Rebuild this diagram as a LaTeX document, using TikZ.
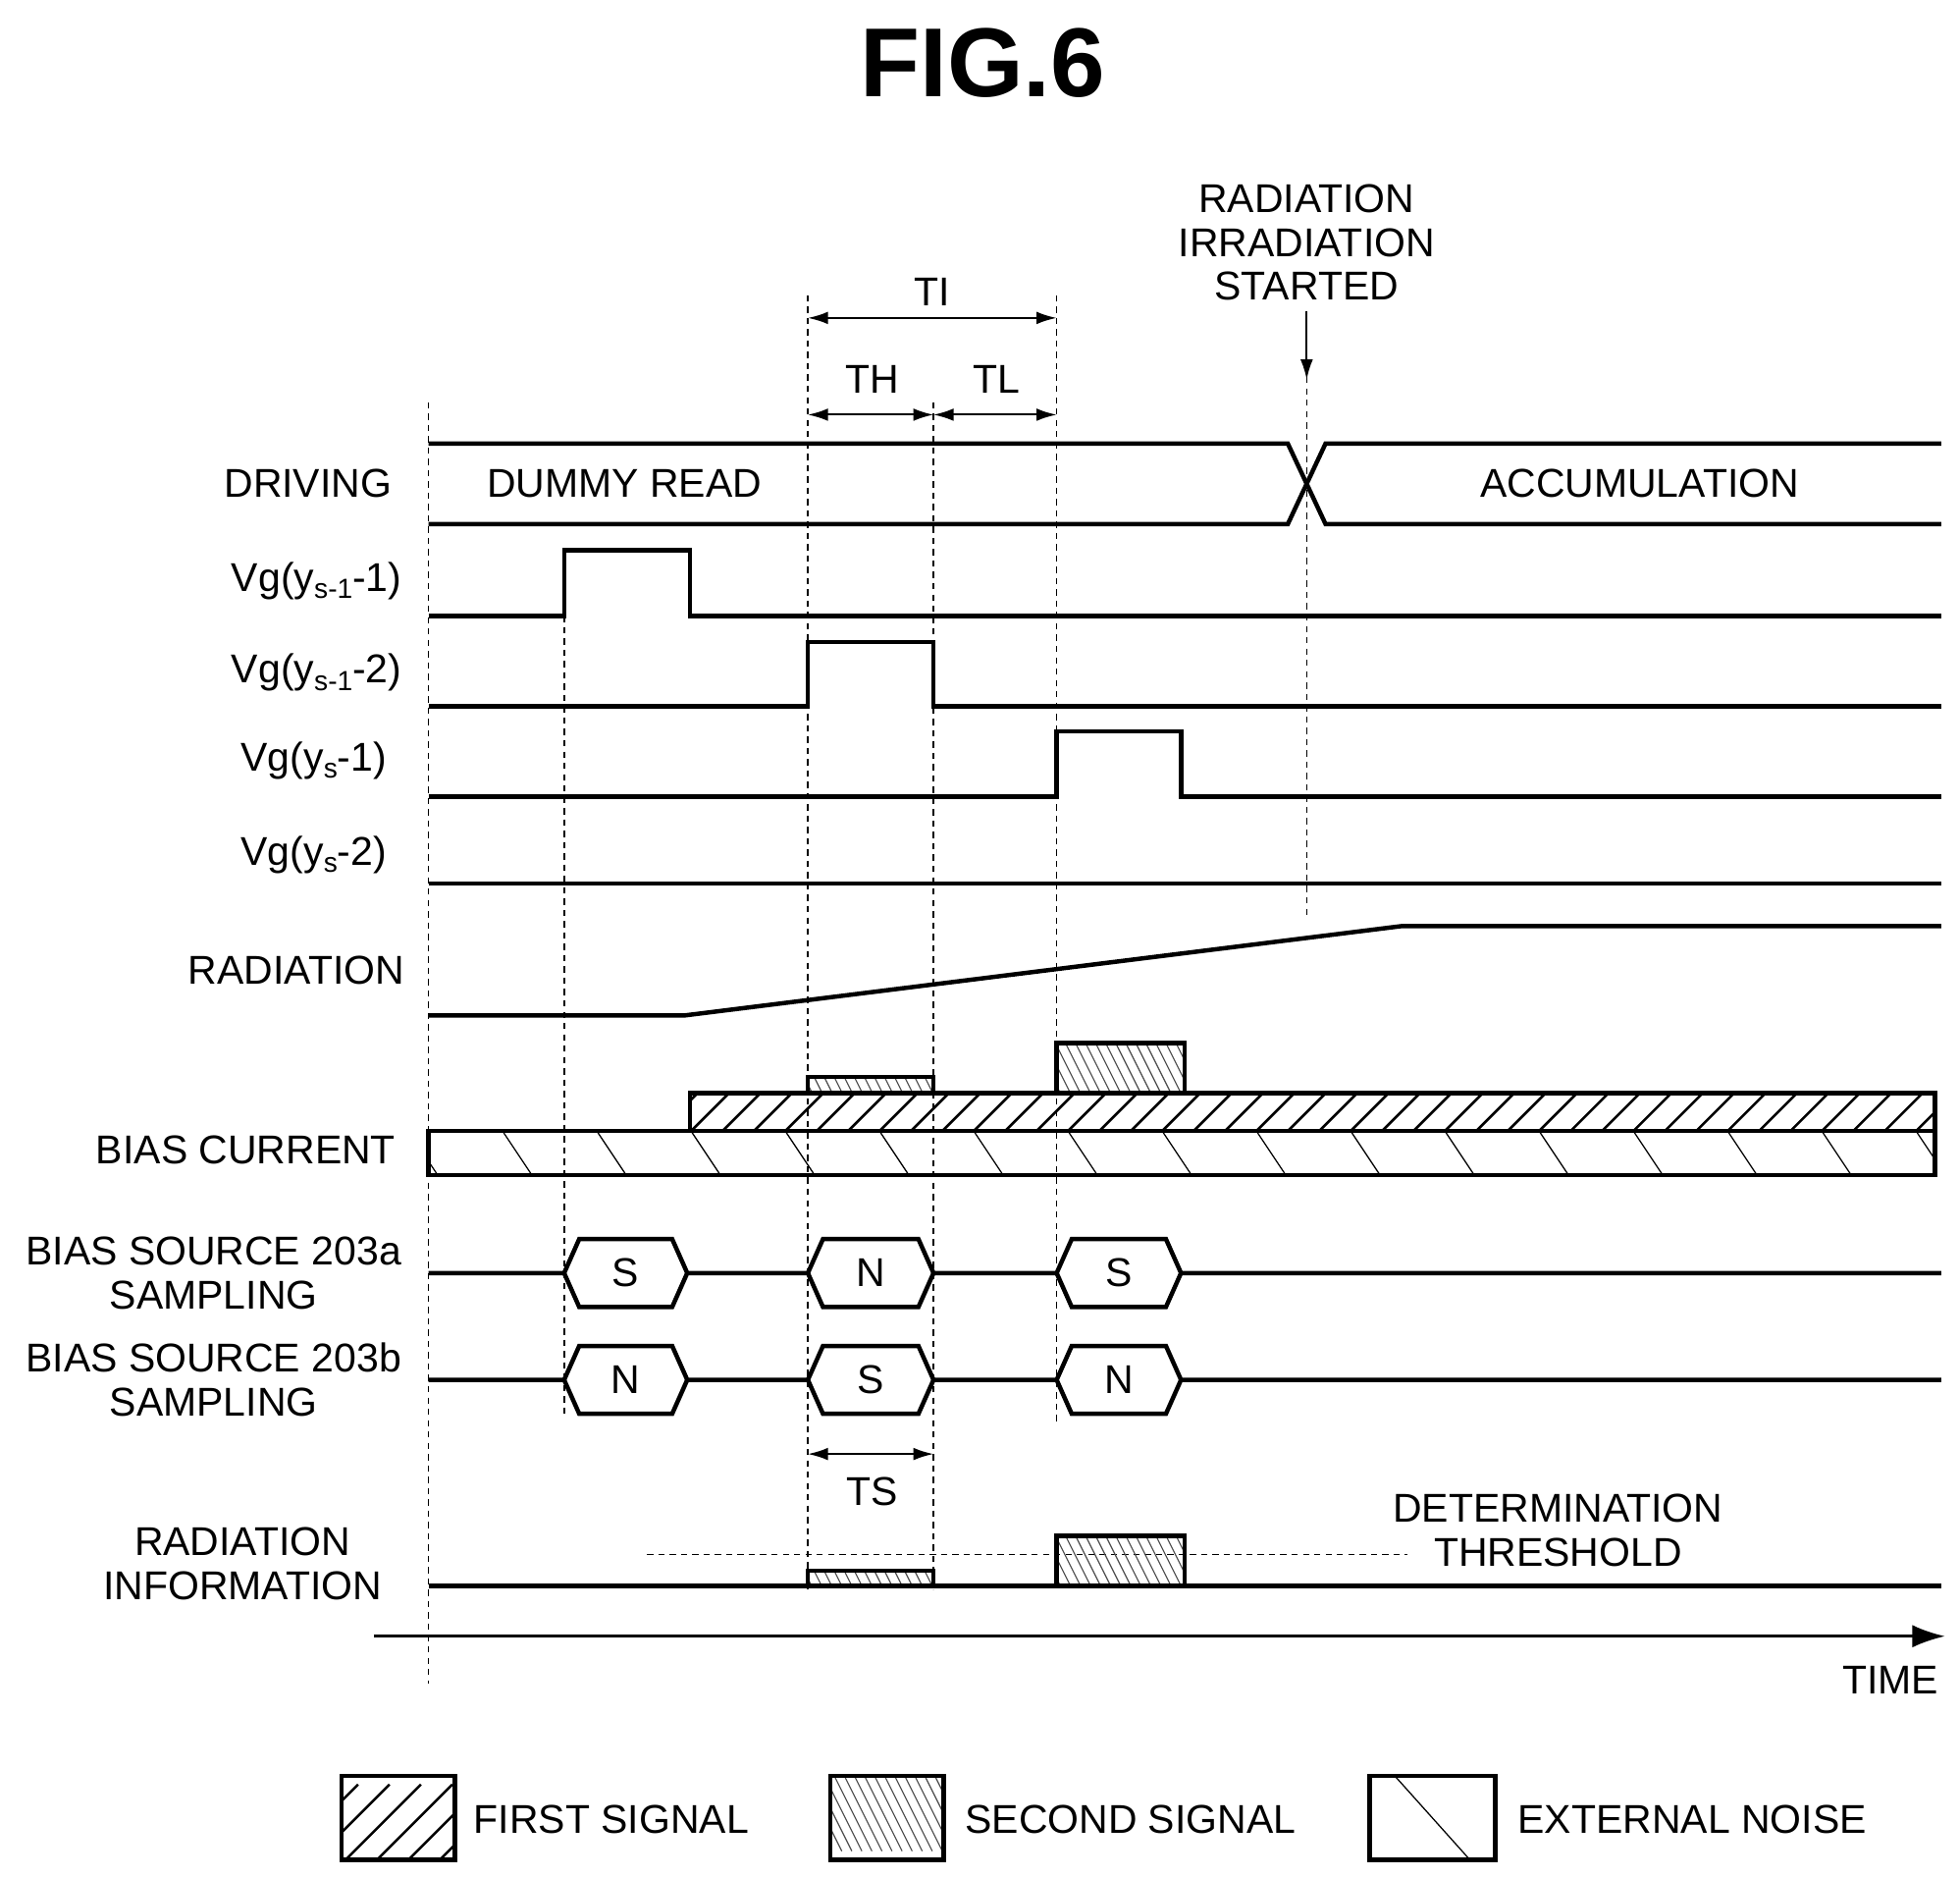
\documentclass[tikz,border=0pt]{standalone}
\usepackage{fontspec}
\setmainfont{Liberation Sans}
\usetikzlibrary{arrows.meta}
\begin{document}
\begin{tikzpicture}[x=1pt,y=-1pt,
  sig/.style={line width=3.5pt},
  dsh/.style={line width=1.2pt,dash pattern=on 5pt off 4pt},
  lbl/.style={font=\fontsize{32}{35}\selectfont,inner sep=0pt},
  lblr/.style={lbl,anchor=east},
  lbl2/.style={lbl,align=center,font=\fontsize{32}{35}\selectfont},
  dim/.style={line width=1.5pt,{Latex[length=16pt,width=10pt]}-{Latex[length=16pt,width=10pt]}},
  hex/.style={sig}]
\useasboundingbox (0,0) rectangle (1560,1493);
\newcommand\hatchNE[4]{\begin{scope}\clip (#1,#2) rectangle (#3,#4);
  \foreach \k in {-200,-175,...,1600}{\draw[line width=2pt] (\k,#4) -- ++(60,-60);}\end{scope}}
\newcommand\hatchDot[4]{\begin{scope}\clip (#1,#2) rectangle (#3,#4);
  \foreach \k in {-200,-192,...,1600}{\draw[line width=0.9pt,black!70] (\k,#2) -- ++(30,60);}\end{scope}}
\newcommand\hatchNW[4]{\begin{scope}\clip (#1,#2) rectangle (#3,#4);
  \foreach \k in {-200,-125,...,1600}{\draw[line width=1pt] (\k,#2) -- ++(40,60);}\end{scope}}
% title
\node[font=\bfseries\fontsize{78}{78}\selectfont,inner sep=0pt] (title) at (782,50) {FIG.6};
% dashed verticals
\draw[dsh] (341,320) -- (341,1340);
\draw[dsh] (449,490) -- (449,1128);
\draw[dsh] (643,235) -- (643,1265);
\draw[dsh] (743,320) -- (743,1265);
\draw[dsh] (841,235) -- (841,1132);
\draw[dsh] (1040,300) -- (1040,728);
% dimension arrows
\coordinate (ti1) at (643,253); \coordinate (ti2) at (841,253);
\draw[dim] (ti1) -- (ti2);
\node[lbl] (TI) at (742,232) {TI};
\coordinate (th1) at (643,330); \coordinate (th2) at (743,330); \coordinate (tl2) at (841,330);
\draw[dim] (th1) -- (th2); \draw[dim] (th2) -- (tl2);
\node[lbl] (TH) at (694,302) {TH};
\node[lbl] (TL) at (793,302) {TL};
\node[lbl2] (rstart) at (1040,193) {RADIATION\\IRRADIATION\\STARTED};
\coordinate (ra1) at (1040,248); \coordinate (ra2) at (1040,302);
\draw[line width=1.5pt,-{Latex[length=16pt,width=10pt]}] (ra1) -- (ra2);
% DRIVING
\draw[sig] (341,353) -- (1025,353) -- (1055,417) -- (1545,417);
\draw[sig] (341,417) -- (1025,417) -- (1055,353) -- (1545,353);
\node[lblr] (ldrv) at (312,385) {DRIVING};
\node[lbl] (dummy) at (497,385) {DUMMY READ};
\node[lbl] (accum) at (1305,385) {ACCUMULATION};
% Vg rows
\newcommand\sub[1]{\raisebox{-0.35ex}{\fontsize{22}{22}\selectfont #1}}
\draw[sig] (341,490) -- (449,490) -- (449,438) -- (549,438) -- (549,490) -- (1545,490);
\node[lblr] (l1) at (320,462) {Vg(y\sub{s-1}-1)};
\draw[sig] (341,562) -- (643,562) -- (643,511) -- (743,511) -- (743,562) -- (1545,562);
\node[lblr] (l2) at (320,535) {Vg(y\sub{s-1}-2)};
\draw[sig] (341,634) -- (841,634) -- (841,582) -- (940,582) -- (940,634) -- (1545,634);
\node[lblr] (l3) at (308,605) {Vg(y\sub{s}-1)};
\draw[sig] (341,703) -- (1545,703);
\node[lblr] (l4) at (308,680) {Vg(y\sub{s}-2)};
% radiation
\draw[sig] (341,808) -- (545,808) -- (1115,737) -- (1545,737);
\node[lblr] (lrad) at (322,772) {RADIATION};
% bias current
\hatchNW{341}{900}{1540}{935}
\draw[sig] (341,900) rectangle (1540,935);
\hatchNE{549}{870}{1540}{900}
\draw[sig] (549,870) rectangle (1540,900);
\hatchDot{643}{857}{743}{870}
\draw[sig] (643,857) rectangle (743,870);
\hatchDot{841}{830}{943}{870}
\draw[sig] (841,830) rectangle (943,870);
\node[lblr] (lbias) at (315,915) {BIAS CURRENT};
% sampling rows
\newcommand\hexrow[4]{% y, t1,t2,t3
  \draw[sig] (341,#1) -- (449,#1) -- (461,#1-27) -- (535,#1-27) -- (547,#1) -- (643,#1)
    -- (655,#1-27) -- (731,#1-27) -- (743,#1) -- (841,#1) -- (853,#1-27) -- (928,#1-27) -- (940,#1) -- (1545,#1);
  \draw[sig] (449,#1) -- (461,#1+27) -- (535,#1+27) -- (547,#1);
  \draw[sig] (643,#1) -- (655,#1+27) -- (731,#1+27) -- (743,#1);
  \draw[sig] (841,#1) -- (853,#1+27) -- (928,#1+27) -- (940,#1);
  \node[lbl] at (498,#1) {#2}; \node[lbl] at (693,#1) {#3}; \node[lbl] at (891,#1) {#4};}
\hexrow{1013}{S}{N}{S}
\node[lbl2] (la) at (170,1013) {BIAS SOURCE 203a\\SAMPLING};
\hexrow{1098}{N}{S}{N}
\node[lbl2] (lb) at (170,1098) {BIAS SOURCE 203b\\SAMPLING};
% TS
\coordinate (ts1) at (643,1157); \coordinate (ts2) at (743,1157);
\draw[dim] (ts1) -- (ts2);
\node[lbl] (TS) at (694,1187) {TS};
% radiation information
\draw[line width=1.3pt,dash pattern=on 5pt off 4pt] (515,1237) -- (1120,1237);
\hatchDot{643}{1250}{743}{1262}
\draw[sig] (643,1250) rectangle (743,1262);
\hatchDot{841}{1222}{943}{1262}
\draw[sig] (841,1222) rectangle (943,1262);
\draw[sig] (341,1262) -- (1545,1262);
\node[lbl2] (thr) at (1240,1218) {DETERMINATION\\THRESHOLD};
\node[lbl2] (linfo) at (193,1244) {RADIATION\\INFORMATION};
% time axis
\coordinate (t0) at (298,1302); \coordinate (t1) at (1548,1302);
\draw[line width=2pt,-{Latex[length=26pt,width=18pt]}] (t0) -- (t1);
\node[lbl,anchor=east] (time) at (1543,1337) {TIME};
% legend
\hatchNE{272}{1413}{362}{1480}
\draw[sig] (272,1413) rectangle (362,1480);
\node[lbl,anchor=west] (lg1) at (377,1448) {FIRST SIGNAL};
\hatchDot{661}{1413}{751}{1480}
\draw[sig] (661,1413) rectangle (751,1480);
\node[lbl,anchor=west] (lg2) at (768,1448) {SECOND SIGNAL};
\begin{scope}\clip (1090,1413) rectangle (1190,1480);
\draw[line width=1pt] (1110,1413) -- ++(60,67);\end{scope}
\draw[sig] (1090,1413) rectangle (1190,1480);
\node[lbl,anchor=west] (lg3) at (1208,1448) {EXTERNAL NOISE};
\end{tikzpicture}
\end{document}
